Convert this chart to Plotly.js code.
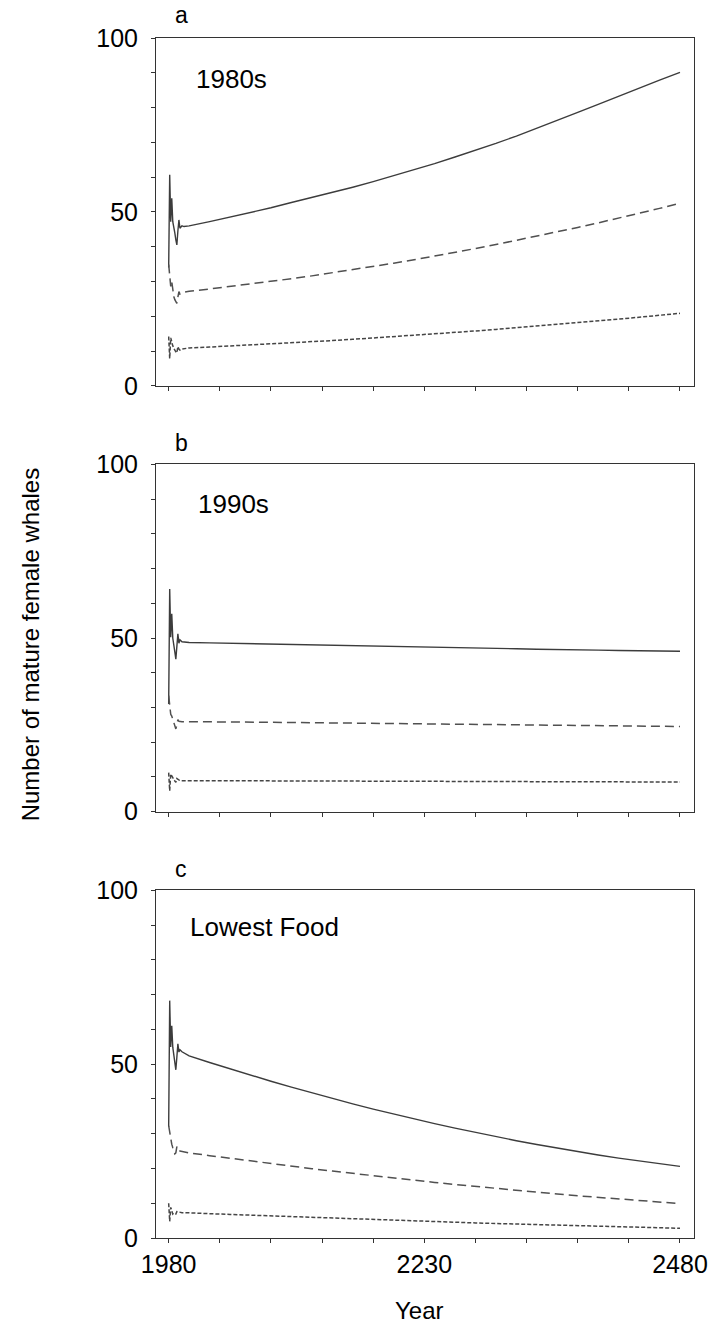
<!DOCTYPE html>
<html>
<head>
<meta charset="utf-8">
<script src="https://cdn.plot.ly/plotly-3.0.1.min.js"></script>
<style>
html, body { margin: 0; padding: 0; background: #fff; }
#chart { width: 713px; height: 1340px; }
</style>
</head>
<body>
<div id="chart"></div>
<script>
// ---- Data ----
const years = [1980,1981,1982,1983,1984,1985,1986,1987,1988,1989,1990,1991,1993,1995,
               2000,2020,2040,2060,2080,2100,2120,2140,2160,2180,2200,2220,2240,
               2260,2280,2300,2320,2340,2360,2380,2400,2420,2440,2460,2480];

// Panel a: 1980s
const a_solid  = [34,60.7,47.2,53.9,47.2,46,44,42,40.5,44.5,47.7,45.3,46.0,45.8,
                  46.0,47.2,48.5,49.8,51.2,52.7,54.1,55.6,57.1,58.7,60.4,62.1,63.9,
                  65.8,67.7,69.7,71.8,74.0,76.3,78.6,80.9,83.3,85.7,87.9,90.1];
const a_dashed = [34.9,31,28.6,30,27,25.7,24.8,24.2,23.7,25.5,27.1,26.4,26.8,26.9,
                  27.2,27.85,28.54,29.26,30.01,30.8,31.62,32.48,33.38,34.31,35.27,36.27,37.3,
                  38.37,39.48,40.62,41.8,43.01,44.26,45.54,46.86,48.21,49.6,51.02,52.48];
const a_dotted = [14.2,7.9,13.8,12,11.5,10.8,10.2,9.8,9.5,11.3,10.6,10.3,10.6,10.7,
                  10.9,11.17,11.45,11.74,12.04,12.36,12.69,13.03,13.38,13.75,14.13,14.52,14.93,
                  15.35,15.78,16.23,16.69,17.16,17.65,18.15,18.66,19.19,19.73,20.29,20.86];

// Panel b: 1990s
const b_solid  = [31,64.1,50.2,57,50,48.5,46,43.9,47.5,51.2,48.5,49.5,48.9,48.8,
                  48.7,48.6,48.5,48.4,48.3,48.15,48.0,47.9,47.8,47.7,47.6,47.45,47.3,
                  47.2,47.1,47.0,46.9,46.75,46.6,46.55,46.5,46.4,46.3,46.25,46.2];
const b_dashed = [33.4,30,28,27.5,26.5,26,24.5,23.8,25,26.5,26,25.9,25.9,25.9,
                  25.9,25.85,25.8,25.75,25.7,25.65,25.6,25.55,25.5,25.4,25.3,25.25,25.2,
                  25.1,25.0,24.95,24.9,24.85,24.8,24.75,24.7,24.65,24.6,24.55,24.5];
const b_dotted = [11.2,6,10.8,10,9.8,9.2,8.6,8.4,9.5,9.3,8.9,8.9,8.9,8.9,
                  8.9,8.9,8.9,8.87,8.85,8.83,8.8,8.8,8.8,8.77,8.75,8.72,8.7,
                  8.67,8.65,8.62,8.6,8.6,8.6,8.57,8.55,8.52,8.5,8.5,8.5];

// Panel c: Lowest Food
const c_solid  = [32,68.3,55,61.1,54.9,53,51,48.4,52,55.9,53.5,54.2,53.6,53.3,
                  52.4,50.5,48.65,46.85,45.1,43.4,41.75,40.15,38.6,37.1,35.65,34.25,32.9,
                  31.6,30.35,29.15,28.0,26.9,25.85,24.85,23.9,23.0,22.15,21.35,20.6];
const c_dashed = [32.3,30,28,27,26,25,24.2,24.5,26.3,25.5,25.0,25.0,24.9,24.7,
                  24.5,23.7,22.92,22.15,21.4,20.67,19.95,19.25,18.57,17.9,17.25,16.62,16.0,
                  15.4,14.82,14.25,13.7,13.17,12.65,12.15,11.67,11.2,10.75,10.32,9.9];
const c_dotted = [10,4.8,8.8,7.5,6.9,7.2,7.0,6.9,7.6,7.5,7.4,7.4,7.3,7.3,
                  7.2,7.0,6.78,6.56,6.34,6.12,5.9,5.69,5.48,5.28,5.08,4.89,4.7,
                  4.52,4.34,4.17,4.0,3.84,3.68,3.53,3.38,3.24,3.1,2.95,2.8];

const panelLetters = ['a','b','c'];
const panelLabels  = ['1980s','1990s','Lowest Food'];
const xTickVals  = [1980,2030,2080,2130,2180,2230,2280,2330,2380,2430,2480];
const xTickText  = ['1980','','','','','2230','','','','','2480'];
const yTickVals  = [0,10,20,30,40,50,60,70,80,90,100];
const yTickText  = ['0','','','','','50','','','','','100'];
const yTitle = 'Number of mature female whales';
const xTitle = 'Year';

// ---- Build traces ----
const FONT = 'Liberation Sans, Arial, Helvetica, sans-serif';
const styles = [
  {color:'#3c3c3c', width:1.4, dash:'solid'},
  {color:'#505050', width:1.5, dash:'9px,5px'},
  {color:'#454545', width:1.5, dash:'4px,2px'}
];
const panels = [[a_solid,a_dashed,a_dotted],[b_solid,b_dashed,b_dotted],[c_solid,c_dashed,c_dotted]];
const traces = [];
panels.forEach((series, p) => {
  series.forEach((vals, s) => {
    traces.push({
      x: years, y: vals, type: 'scatter', mode: 'lines',
      xaxis: p === 0 ? 'x' : 'x' + (p + 1),
      yaxis: p === 0 ? 'y' : 'y' + (p + 1),
      line: styles[s], hoverinfo: 'skip', showlegend: false
    });
  });
});

const domains = [[0.7101, 1.0], [0.3554, 0.6446], [0.0, 0.2896]];
const layout = {
  width: 713, height: 1340,
  margin: {l: 156, r: 19, t: 38, b: 102},
  paper_bgcolor: '#fff', plot_bgcolor: '#fff',
  font: {family: FONT, size: 24, color: '#000'},
  showlegend: false,
  annotations: []
};
for (let p = 0; p < 3; p++) {
  const xn = p === 0 ? 'xaxis' : 'xaxis' + (p + 1);
  const yn = p === 0 ? 'yaxis' : 'yaxis' + (p + 1);
  const yref = p === 0 ? 'y' : 'y' + (p + 1);
  const xref = p === 0 ? 'x' : 'x' + (p + 1);
  layout[xn] = {
    domain: [0, 1], anchor: yref, range: [1967.6, 2493.7],
    tickmode: 'array', tickvals: xTickVals,
    ticktext: p === 2 ? xTickText : xTickVals.map(() => ''),
    ticks: 'outside', ticklen: 4, tickcolor: '#333', tickwidth: 1,
    showline: true, mirror: true, linecolor: '#333', linewidth: 1,
    showgrid: false, zeroline: false, automargin: false,
    tickfont: {family: FONT, size: 25, color: '#000'}
  };
  layout[yn] = {
    domain: domains[p], anchor: xref, range: [0, 100],
    tickmode: 'array', tickvals: yTickVals, ticktext: yTickText,
    ticks: 'outside', ticklen: 4, tickcolor: '#333', tickwidth: 1,
    ticklabelstandoff: 8,
    showline: true, mirror: true, linecolor: '#333', linewidth: 1,
    showgrid: false, zeroline: false, automargin: false,
    tickfont: {family: FONT, size: 25, color: '#000'}
  };
}
const letterY = [1.0188, 0.6629, 0.3079];
const labelX = [0.0706, 0.0743, 0.0595];
const labelY = [0.966, 0.612, 0.2588];
for (let p = 0; p < 3; p++) {
  layout.annotations.push({
    text: panelLetters[p], xref: 'paper', yref: 'paper',
    x: 0.047, y: letterY[p], xanchor: 'center', yanchor: 'middle',
    showarrow: false, font: {family: FONT, size: 23, color: '#000'}
  });
  layout.annotations.push({
    text: panelLabels[p], xref: 'paper', yref: 'paper',
    x: labelX[p], y: labelY[p], xanchor: 'left', yanchor: 'middle',
    showarrow: false, font: {family: FONT, size: 26, color: '#000'}
  });
}
layout.annotations.push({
  text: yTitle, xref: 'paper', yref: 'paper', x: -0.234, y: 0.494,
  textangle: -90, xanchor: 'center', yanchor: 'middle', showarrow: false,
  font: {family: FONT, size: 24, color: '#000'}
});
layout.annotations.push({
  text: xTitle, xref: 'paper', yref: 'paper', x: 0.49, y: -0.0604,
  xanchor: 'center', yanchor: 'middle', showarrow: false,
  font: {family: FONT, size: 24, color: '#000'}
});

Plotly.newPlot('chart', traces, layout, {staticPlot: true, displayModeBar: false});
</script>
</body>
</html>
